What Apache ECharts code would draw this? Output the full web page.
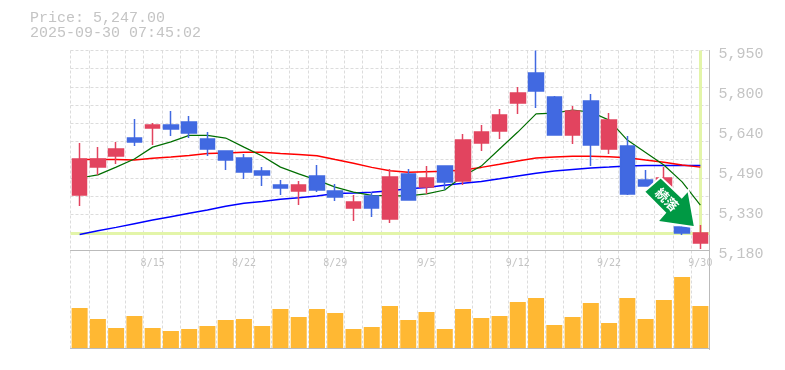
<!DOCTYPE html>
<html><head><meta charset="utf-8">
<style>html,body{margin:0;padding:0;background:#fff}#c{width:785px;height:370px}</style>
<script src="https://cdn.jsdelivr.net/npm/echarts@6/dist/echarts.min.js"></script>
</head><body><div id="c"></div>
<script>
const dates=['8/8','8/12','8/13','8/14','8/15','8/18','8/19','8/20','8/21','8/22','8/25','8/26','8/27','8/28','8/29','9/1','9/2','9/3','9/4','9/5','9/8','9/9','9/10','9/11','9/12','9/16','9/17','9/18','9/19','9/22','9/24','9/25','9/26','9/29','9/30'];
const opens=[5394,5501,5544,5613,5652,5663,5675,5609,5563,5536,5486,5432,5409,5467,5409,5344,5390,5301,5475,5424,5505,5448,5594,5640,5748,5863,5771,5625,5756,5571,5582,5451,5413,5270,5209];
const closes=[5532,5532,5571,5598,5663,5648,5632,5571,5528,5482,5471,5421,5432,5413,5386,5367,5344,5463,5374,5459,5444,5605,5636,5702,5786,5794,5625,5717,5586,5682,5398,5428,5459,5247,5247];
const lows=[5351,5471,5513,5582,5586,5621,5613,5544,5490,5455,5428,5394,5355,5405,5371,5294,5309,5286,5374,5398,5413,5432,5563,5609,5706,5729,5625,5590,5505,5552,5394,5428,5394,5240,5186];
const highs=[5594,5578,5598,5686,5671,5717,5698,5636,5563,5552,5501,5451,5448,5509,5436,5394,5405,5494,5494,5505,5505,5629,5663,5725,5809,5950,5775,5736,5783,5709,5621,5490,5501,5278,5278];
const maShort=[5459,5471,5501,5532,5578,5598,5623,5623,5613,5578,5544,5501,5475,5451,5424,5405,5392,5390,5390,5398,5413,5467,5505,5571,5636,5706,5709,5721,5713,5682,5605,5557,5509,5444,5355];
const maMid=[5530,5530,5530,5528,5535,5540,5546,5553,5555,5558,5558,5553,5550,5545,5530,5516,5500,5487,5481,5483,5485,5490,5500,5512,5525,5536,5540,5543,5543,5541,5537,5528,5520,5509,5501];
const maLong=[5242,5256,5269,5283,5297,5310,5323,5336,5350,5362,5369,5377,5383,5390,5399,5401,5404,5410,5418,5423,5431,5439,5446,5456,5467,5477,5486,5492,5498,5501,5505,5507,5507,5507,5507];
const volumes=[40,29,20,32,20,17,19,22,28,29,22,39,31,39,35,19,21,42,28,36,19,39,30,32,46,50,23,31,45,25,50,29,48,71,42];
const priceTicks=[5180,5334,5488,5642,5796,5950];
const priceTickLabels=['5,180','5,330','5,490','5,640','5,800','5,950'];
const lastPrice=5247;
const titleLines=['Price: 5,247.00','2025-09-30 07:45:02'];
const badgeText='続落';

const GRID='#dcdcdc', AXIS='#bbbbbb', TXT='#c4c4c4', UP='#e2445f', DOWN='#4169e1', MARK='#e3f5a9';
const mono='"Liberation Mono", monospace';
const dash={color:GRID,type:[3,2],width:1};
const maLine=(name,data,color,width)=>({name,type:'line',data,xAxisIndex:0,yAxisIndex:0,showSymbol:false,symbol:'none',z:2,silent:true,
  lineStyle:{color,width}});
const chart=echarts.init(document.getElementById('c'),null,{renderer:'canvas'});
chart.setOption({
  animation:false,backgroundColor:'#fff',
  title:{show:false},
  grid:[{left:70.5,top:50.5,width:639,height:200},{left:70.5,top:250.5,width:639,height:99}],
  xAxis:[
    {type:'category',gridIndex:0,data:dates,boundaryGap:true,axisTick:{show:false},
     axisLine:{show:true,lineStyle:{color:AXIS,width:1}},
     splitLine:{show:true,interval:0,lineStyle:dash},
     axisLabel:{interval:(i)=>i%5===4,margin:8,color:TXT,fontFamily:'"DejaVu Sans Mono", monospace',fontSize:10,hideOverlap:false}},
    {type:'category',gridIndex:1,data:dates,boundaryGap:true,axisTick:{show:false},
     axisLine:{show:true,lineStyle:{color:AXIS,width:1}},
     splitLine:{show:true,interval:0,lineStyle:dash},axisLabel:{show:false}}
  ],
  yAxis:[
    {type:'value',gridIndex:0,position:'right',min:5180,max:5950,scale:true,
     axisLine:{show:true,lineStyle:{color:AXIS,width:1}},axisTick:{show:false},splitLine:{show:false},
     axisLabel:{customValues:priceTicks,margin:9,color:TXT,fontFamily:mono,fontSize:15,verticalAlign:'top',lineHeight:8,
       formatter:(v)=>priceTickLabels[priceTicks.indexOf(v)]||''}},
    {type:'value',gridIndex:0,min:0,max:11,interval:1,axisLine:{show:false},axisTick:{show:false},axisLabel:{show:false},
     splitLine:{show:true,lineStyle:dash}},
    {type:'value',gridIndex:1,position:'right',min:-1.5,max:97.5,axisLine:{show:true,lineStyle:{color:AXIS,width:1}},
     axisTick:{show:false},axisLabel:{show:false},splitLine:{show:false}}
  ],
  series:[
    maLine('long',maLong,'#0000ff',1.5),
    maLine('mid',maMid,'#ff0000',1.5),
    maLine('short',maShort,'#006e00',1.2),
    {type:'candlestick',xAxisIndex:0,yAxisIndex:0,z:3,barWidth:15,silent:true,clip:true,
     data:dates.map((d,i)=>[opens[i],closes[i],lows[i],highs[i]]),
     itemStyle:{color:UP,color0:DOWN,borderColor:UP,borderColor0:DOWN,borderWidth:1.5},
     markLine:{silent:true,symbol:'none',z:1,animation:false,label:{show:false},lineStyle:{color:MARK,width:3,type:'solid'},
       data:[{yAxis:lastPrice},[{xAxis:dates.length-1,yAxis:5950},{xAxis:dates.length-1,yAxis:lastPrice}]]}},
    {type:'bar',xAxisIndex:1,yAxisIndex:2,data:volumes,barWidth:16,silent:true,itemStyle:{color:'#ffb833'}}
  ],
  graphic:[
    {type:'text',left:30,top:11,silent:true,style:{text:titleLines[0],fill:TXT,font:'15px '+mono}},
    {type:'text',left:30,top:26,silent:true,style:{text:titleLines[1],fill:TXT,font:'15px '+mono}},
    {type:'polygon',silent:true,z:100,shape:{points:[[660.7,177.3],[644,191.7],[665,212.7],[657.3,221.7],[695,227.3],[688.3,190],[681.7,197.3]]},
     style:{fill:'#009944',stroke:'#fff',lineWidth:2,lineJoin:'miter'}},
    {type:'text',silent:true,z:101,x:667,y:199.5,rotation:-Math.PI/4,
     style:{text:badgeText,fill:'#fff',font:'bold 13px "Noto Sans CJK JP"',align:'center',verticalAlign:'middle'}}
  ]
});
</script></body></html>
